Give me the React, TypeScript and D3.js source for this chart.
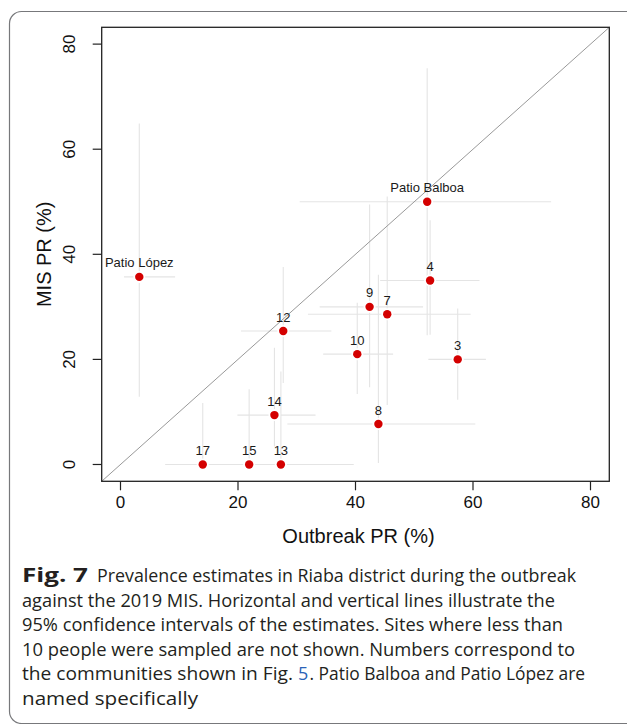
import React from "react";
import * as d3 from "d3";

const sites = ["Patio López", "Patio Balboa", "4", "9", "7", "12", "10", "3", "14", "8", "17", "15", "13"];
const outbreakPR = [3.2, 52.2, 52.7, 42.4, 45.4, 27.7, 40.3, 57.4, 26.2, 43.9, 14.0, 21.9, 27.3];
const misPR = [35.7, 50.0, 35.0, 30.0, 28.6, 25.4, 21.0, 20.0, 9.4, 7.7, 0, 0, 0];
const outbreakLo = [0.6, 30.5, 44.2, 33.9, 31.9, 20.5, 34.5, 52.4, 19.9, 28.4, 7.6, 13.0, 19.0];
const outbreakHi = [9.3, 73.3, 61.1, 51.5, 59.6, 35.9, 46.4, 62.2, 33.2, 60.4, 24.5, 33.1, 39.7];
const misLo = [12.9, 24.6, 24.7, 14.7, 11.3, 15.5, 13.4, 12.3, 3.4, 0.3, 0, 0, 0];
const misHi = [64.9, 75.4, 46.5, 49.5, 51.0, 37.6, 30.8, 29.7, 22.2, 36.1, 11.7, 14.3, 17.7];
const ticks = [0, 20, 40, 60, 80];
const xTitle = "Outbreak PR (%)";
const yTitle = "MIS PR (%)";
const captionLines = [
  "Prevalence estimates in Riaba district during the outbreak",
  "against the 2019 MIS. Horizontal and vertical lines illustrate the",
  "95% confidence intervals of the estimates. Sites where less than",
  "10 people were sampled are not shown. Numbers correspond to",
  "the communities shown in Fig. 5. Patio Balboa and Patio López are",
  "named specifically",
];

const W = 627;
const H = 724;
const L = 101.7, R = 609.3, T = 27.3, B = 481.3;
const axisFont = "'Liberation Sans', Arial, Helvetica, sans-serif";
const capFont = "'Open Sans', 'Noto Sans', sans-serif";

export default function App() {
  const x = d3.scaleLinear().domain([-3.2, 83.2]).range([L, R]);
  const y = d3.scaleLinear().domain([-3.2, 83.2]).range([B, T]);
  const idx = d3.range(sites.length);
  const lineEnds = [576, 555, 563, 575, 585, 198];
  const capX = 22;
  const baseY = 582;
  const lh = 24.5;
  const capProps = { fontFamily: capFont, fontSize: 19, fill: "#231f20", lengthAdjust: "spacingAndGlyphs" as const };

  return (
    <svg width={W} height={H} style={{ position: "absolute", left: 0, top: 0, background: "#fff" }}>
      <rect x={0} y={0} width={W} height={H} fill="#fff" />
      {/* outer frame */}
      <rect x={9.5} y={11.5} width={640} height={712} rx={12} ry={12} fill="none" stroke="#77787b" strokeWidth={1.2} />

      {/* error bars */}
      <g stroke="#e4e4e4" strokeWidth={1.1}>
        {idx.map((i) => (
          <g key={"e" + i}>
            <line x1={x(outbreakLo[i])} x2={x(outbreakHi[i])} y1={y(misPR[i])} y2={y(misPR[i])} />
            <line x1={x(outbreakPR[i])} x2={x(outbreakPR[i])} y1={y(misLo[i])} y2={y(misHi[i])} />
          </g>
        ))}
      </g>
      {/* halos */}
      {idx.map((i) => (
        <circle key={"h" + i} cx={x(outbreakPR[i])} cy={y(misPR[i])} r={6} fill="#fff" />
      ))}
      {/* diagonal */}
      <line x1={x(-3.2)} y1={y(-3.2)} x2={x(83.2)} y2={y(83.2)} stroke="#999" strokeWidth={1} />
      {/* points */}
      {idx.map((i) => (
        <circle key={"p" + i} cx={x(outbreakPR[i])} cy={y(misPR[i])} r={4.2} fill="#d40000" />
      ))}
      {/* labels */}
      {idx.map((i) => (
        <text key={"l" + i} x={x(outbreakPR[i])} y={y(misPR[i]) - 9.5} textAnchor="middle"
          fontFamily={axisFont} fontSize={13} fill="#1a1a1a">{sites[i]}</text>
      ))}

      {/* box */}
      <rect x={L} y={T} width={R - L} height={B - T} fill="none" stroke="#222" strokeWidth={1.3} />

      {/* x axis ticks */}
      {ticks.map((t) => (
        <g key={"xt" + t}>
          <line x1={x(t)} x2={x(t)} y1={B} y2={B + 9} stroke="#222" strokeWidth={1.2} />
          <text x={x(t)} y={B + 27} textAnchor="middle" fontFamily={axisFont} fontSize={17} fill="#111">{t}</text>
        </g>
      ))}
      {/* y axis ticks */}
      {ticks.map((t) => (
        <g key={"yt" + t}>
          <line x1={L - 9} x2={L} y1={y(t)} y2={y(t)} stroke="#222" strokeWidth={1.2} />
          <text transform={`translate(${L - 27},${y(t)}) rotate(-90)`} textAnchor="middle"
            fontFamily={axisFont} fontSize={17} fill="#111">{t}</text>
        </g>
      ))}
      <text x={(L + R) / 2 + 3} y={543} textAnchor="middle" fontFamily={axisFont} fontSize={20} fill="#111">{xTitle}</text>
      <text transform={`translate(51,${(T + B) / 2}) rotate(-90)`} textAnchor="middle"
        fontFamily={axisFont} fontSize={20} fill="#111">{yTitle}</text>

      {/* caption */}
      <text x={capX} y={baseY} {...capProps} fontWeight="bold" textLength={66}>Fig. 7</text>
      {captionLines.map((ln, i) => {
        const sx = i === 0 ? 97 : capX;
        const len = lineEnds[i] - sx;
        if (i === 4) {
          const k = ln.indexOf("Fig. 5.") + 4;
          const a = ln.slice(0, k);
          const c = ln.slice(k + 2);
          return (
            <g key={"c" + i}>
              <text x={sx} y={baseY + i * lh} {...capProps} textLength={293 - sx}>{a}</text>
              <text x={298} y={baseY + i * lh} fontFamily={capFont} fontSize={18} fill="#2a63b8">5</text>
              <text x={309.5} y={baseY + i * lh} {...capProps} textLength={lineEnds[i] - 309.5}>{c}</text>
            </g>
          );
        }
        return (
          <text key={"c" + i} x={sx} y={baseY + i * lh} {...capProps} textLength={len}>{ln}</text>
        );
      })}
    </svg>
  );
}
